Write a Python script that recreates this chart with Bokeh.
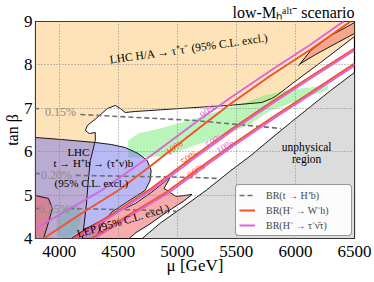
import math
from bokeh.plotting import figure
from bokeh.models import Label, Legend, LegendItem, FixedTicker, Range1d, Title
from bokeh.embed import file_html
from bokeh.resources import INLINE

nan = float("nan")

# ---------------- data ----------------
x_ticks = [4000, 4500, 5000, 5500, 6000, 6500]
y_ticks = [4, 5, 6, 7, 8, 9]

# LHC H/A -> tau tau exclusion region (mu, tan beta)
hA_mu = [3800, 6500, 6500, 6213, 6019, 5842, 5800, 5715, 5428, 5150, 4644, 4559, 4517,
         4475, 4408, 4323, 4239, 4222, 4256, 4306, 4306, 4264, 4247, 4230, 4197, 3800]
hA_tb = [9.0, 9.0, 8.654, 8.055, 7.664, 7.295, 7.226, 7.134, 7.065, 7.018, 6.926, 6.903, 6.995,
         7.065, 6.995, 6.788, 6.604, 6.488, 6.419, 6.442, 6.258, 5.797, 5.336, 4.76, 4.0, 4.0]

# small excluded crescent, upper right
cres_mu = [6028, 6129, 6298, 6441, 6500, 6500, 6357, 6171, 6044]
cres_tb = [7.986, 8.332, 8.677, 8.885, 8.977, 8.724, 8.516, 8.24, 8.032]

# unphysical region
unph_mu = [4703, 4863, 5032, 5243, 5454, 5623, 5774, 5960, 6129, 6298, 6500, 6500]
unph_tb = [4.0, 4.369, 4.691, 5.106, 5.567, 5.912, 6.258, 6.673, 7.041, 7.41, 7.825, 4.0]

# green band
grn_mu = [4585, 4669, 4888, 5091, 5285, 5454, 5623, 5732, 5960, 6272,
          6281, 6044, 5791, 5597, 5310, 5032, 4863, 4585]
grn_tb = [6.258, 6.419, 6.558, 6.719, 6.88, 7.018, 7.18, 7.295, 7.433, 7.525,
          7.433, 7.203, 6.949, 6.604, 6.304, 6.028, 5.889, 5.866]
grn2_mu = [3977, 4062, 4163, 4188, 4154, 4062, 3977]
grn2_tb = [4.53, 4.76, 4.76, 4.53, 4.138, 4.0, 4.069]

# LHC t -> H+ b -> (tau nu) b exclusion
tHb_mu = [3800, 4019, 4306, 4441, 4559, 4669, 4745, 4779, 4770, 4728, 4568, 4441, 4357, 4315, 3800]
tHb_tb = [6.327, 6.281, 6.212, 6.166, 6.097, 5.959, 5.797, 5.567, 5.336, 5.106, 4.829, 4.599, 4.3, 4.0, 4.0]

# LEP exclusion
lep_mu = [4104, 4230, 4357, 4483, 4644, 4779, 4939, 4888, 4990, 5125, 5049, 4905, 4762, 4652, 4593]
lep_tb = [4.0, 4.23, 4.415, 4.599, 4.806, 5.06, 5.406, 5.152, 4.968, 5.014, 4.853, 4.599, 4.323, 4.138, 4.0]
lep2_mu = [3800, 3910, 3943, 3910, 3868, 3800]
lep2_tb = [4.991, 4.922, 4.691, 4.369, 4.0, 4.0]

# BR(t -> H+ b) contours
d15_mu = [3800, 3830, nan, 4180, 5150, 5876]
d15_tb = [6.995, 6.99, nan, 6.857, 6.719, 6.535]
d20_mu = [3800, 3835, nan, 4140, 4205, 5150, 5353]
d20_tb = [5.498, 5.495, nan, 5.455, 5.452, 5.406, 5.382]
d25_mu = [3800, 3828, nan, 4085, 4888, 4990]
d25_tb = [4.69, 4.69, nan, 4.69, 4.645, 4.625]

# BR(H- -> W- h) contours
r10_mu = [3868, 4188, 4500, 4779, 5201, 5454, 5791, 6129, 6466]
r10_tb = [4.0, 4.576, 5.106, 5.682, 6.581, 7.111, 7.756, 8.355, 9.0]
r50_mu = [4121, 4441, 4779, 5116, 5454, 5791, 6129, 6500]
r50_tb = [4.0, 4.553, 5.152, 5.843, 6.512, 7.134, 7.733, 8.378]
r90_mu = [4273, 4610, 4905, 5158, 5454, 5791, 6129, 6500]
r90_tb = [4.0, 4.576, 5.06, 5.567, 6.143, 6.765, 7.364, 8.032]

# BR(H- -> tau nu) contours
m90_mu = [3800, 4019, 4357, 4779, 5201, 5454, 5791, 6129, 6407]
m90_tb = [4.23, 4.576, 5.106, 5.912, 6.765, 7.249, 7.871, 8.47, 9.0]
m50_mu = [4146, 4467, 4804, 5142, 5479, 5817, 6154, 6500]
m50_tb = [4.0, 4.553, 5.152, 5.843, 6.512, 7.134, 7.733, 8.332]
m10_mu = [4298, 4635, 4931, 5184, 5479, 5817, 6154, 6500]
m10_tb = [4.0, 4.576, 5.06, 5.567, 6.143, 6.765, 7.364, 7.986]

# ---------------- figure ----------------
FONT = "Liberation Serif"
W, H = 374, 282
p = figure(width=W, height=H, output_backend="svg", toolbar_location=None,
           x_range=Range1d(3800, 6500), y_range=Range1d(4, 9), title=None,
           min_border_left=34, min_border_right=20, min_border_top=21, min_border_bottom=44)
p.background_fill_color = "white"
p.border_fill_color = "white"
p.outline_line_color = "black"
p.outline_line_width = 1.2

p.add_layout(Title(text="low-Mₕᵃˡᵗ⁻ scenario", align="right", text_font=FONT,
                   text_font_size="16px", text_font_style="normal", text_color="black",
                   standoff=2), "above")

for ax in (p.xaxis, p.yaxis):
    ax.axis_line_color = None
    ax.major_tick_out = 0
    ax.major_tick_in = 0
    ax.minor_tick_out = 0
    ax.minor_tick_in = 0
    ax.major_label_text_font = FONT
    ax.major_label_text_font_size = "17px"
    ax.major_label_text_color = "black"
    ax.axis_label_text_font = FONT
    ax.axis_label_text_font_style = "normal"
    ax.axis_label_text_color = "black"
    ax.axis_label_standoff = 0
p.xaxis.ticker = FixedTicker(ticks=x_ticks)
p.yaxis.ticker = FixedTicker(ticks=y_ticks)
p.xaxis.major_label_standoff = 7
p.xaxis.axis_label_standoff = -4
p.yaxis.major_label_standoff = 3
p.xaxis.axis_label = "μ [GeV]"
p.xaxis.axis_label_text_font_size = "17px"
p.yaxis.axis_label = "tan β"
p.yaxis.axis_label_text_font_size = "16px"

for g in (p.xgrid, p.ygrid):
    g.grid_line_color = "#808080"
    g.grid_line_dash = "1 2"
    g.grid_line_width = 0.9
    g.level = "guide"

# regions
p.patch(unph_mu, unph_tb, fill_color="#DCDCDC", line_color=None)
p.patch(hA_mu, hA_tb, fill_color="#FEE3B8", line_color=None)
p.patch(cres_mu, cres_tb, fill_color="#F6A58F", line_color=None)
p.patch(grn_mu, grn_tb, fill_color="#73EB73", fill_alpha=0.5, line_color=None)
p.patch(grn2_mu, grn2_tb, fill_color="#73EB73", fill_alpha=0.5, line_color=None)
p.patch(tHb_mu, tHb_tb, fill_color="#7373EB", fill_alpha=0.5, line_color=None)
p.patch(lep_mu, lep_tb, fill_color="#F05A5A", fill_alpha=0.5, line_color=None)
p.patch(lep2_mu, lep2_tb, fill_color="#F05A5A", fill_alpha=0.5, line_color=None)

# outlines
ow = 0.9
p.line(hA_mu[2:25], hA_tb[2:25], line_color="black", line_width=ow)
p.line(cres_mu + cres_mu[:1], cres_tb + cres_tb[:1], line_color="black", line_width=ow)
p.line(unph_mu[:11], unph_tb[:11], line_color="black", line_width=ow)
p.line(tHb_mu[:14], tHb_tb[:14], line_color="black", line_width=ow)
p.line(lep_mu, lep_tb, line_color="black", line_width=ow)
p.line(lep2_mu[:5], lep2_tb[:5], line_color="black", line_width=ow)

# dashed BR(t->H+b)
DASH = "#707070"
r_d15 = p.line(d15_mu, d15_tb, line_color=DASH, line_width=1.6, line_dash="5 3")
p.line(d20_mu, d20_tb, line_color=DASH, line_width=1.6, line_dash="5 3")
p.line(d25_mu, d25_tb, line_color=DASH, line_width=1.6, line_dash="5 3")

RED = "#F4512C"
MAG = "#DA66DA"
r_r10 = p.line(r10_mu, r10_tb, line_color=RED, line_width=2)
p.line(r50_mu, r50_tb, line_color=RED, line_width=2)
p.line(r90_mu, r90_tb, line_color=RED, line_width=2)
r_m90 = p.line(m90_mu, m90_tb, line_color=MAG, line_width=2)
p.line(m50_mu, m50_tb, line_color=MAG, line_width=2)
p.line(m10_mu, m10_tb, line_color=MAG, line_width=2)


def lab(text, x, y, size, color="black", angle=0.0, align="center", baseline="middle"):
    p.add_layout(Label(x=x, y=y, text=text, text_font=FONT,
                       text_font_size=f"{size}px", text_color=color, angle=angle,
                       text_align=align, text_baseline=baseline))


# contour labels
lab("0.15%", 4011, 6.926, 12, "#8C8C8C")
lab("0.20%", 3977, 5.452, 12, "#8C8C8C")
lab("0.25%", 3956, 4.691, 12, "#8C8C8C")
ang = math.radians(36)
lab("10%", 4973, 6.097, 10, RED, ang)
lab("90%", 5260, 6.949, 10, MAG, ang)
lab("50%", 5100, 5.866, 10, RED, ang)
lab("90%", 5158, 5.567, 10, RED, ang)
lab("50%", 5310, 6.258, 10, MAG, ang)
lab("10%", 5403, 6.12, 10, MAG, ang)

# region texts
lab("LHC H/A → τ⁺τ⁻ (95% C.L. excl.)", 5099, 8.378, 11.5, angle=math.radians(8))
lab("LHC", 4163, 5.982, 11)
lab("t → H⁺b → (τ⁺ν)b", 4289, 5.751, 11)
lab("(95% C.L. excl.)", 4273, 5.29, 11)
lab("LEP (95% C.L. excl.)", 4543, 4.415, 11, angle=math.radians(16))
lab("unphysical", 6095, 6.097, 11.5)
lab("region", 6095, 5.843, 11.5)

legend = Legend(items=[LegendItem(label="BR(t → H⁺b)", renderers=[r_d15]),
                       LegendItem(label="BR(H⁻ → W⁻h)", renderers=[r_r10]),
                       LegendItem(label="BR(H⁻ → τ⁻ν̄τ)", renderers=[r_m90])],
                location="bottom_right")
legend.label_text_font = FONT
legend.label_text_font_size = "10px"
legend.glyph_width = 16
legend.glyph_height = 12
legend.label_height = 12
legend.label_width = 82
legend.label_standoff = 11
legend.spacing = 1
legend.padding = 3
legend.margin = 2
legend.border_line_color = "#333333"
legend.border_line_width = 1
legend.background_fill_color = "white"
legend.background_fill_alpha = 0.9
try:
    legend.border_radius = 4
except Exception:
    pass
p.add_layout(legend)

open("out.html", "w").write(file_html(p, INLINE))
